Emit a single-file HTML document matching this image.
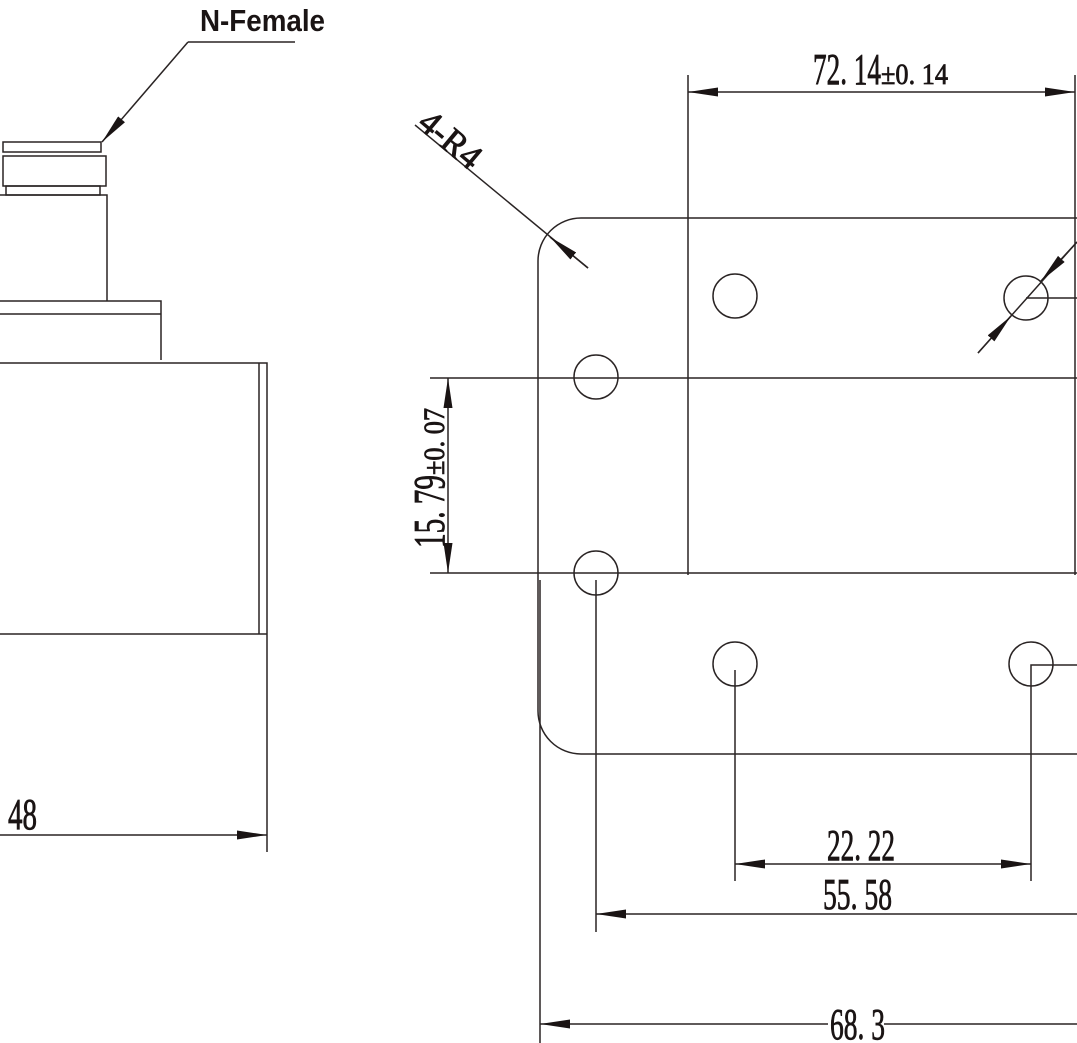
<!DOCTYPE html>
<html><head><meta charset="utf-8"><style>html,body{margin:0;padding:0;background:#fff}svg{display:block}</style></head>
<body>
<svg width="1077" height="1043" viewBox="0 0 1077 1043" xmlns="http://www.w3.org/2000/svg">
<defs>
<marker id="a" viewBox="0 0 30 9" refX="30" refY="4.5" markerWidth="30" markerHeight="9" markerUnits="userSpaceOnUse" orient="auto-start-reverse"><path d="M0,0 L30,4.5 L0,9 Z" fill="#1a1414"/></marker>
</defs>
<g stroke="#2a2424" stroke-width="1.5" fill="none">
<line x1="188" y1="42" x2="295" y2="42"/>
<line x1="188" y1="42" x2="102" y2="142" marker-end="url(#a)"/>
<rect x="3" y="142" width="98" height="10"/>
<rect x="3" y="156" width="103" height="30"/>
<rect x="6" y="186" width="94" height="9"/>
<polyline points="0,195 107,195 107,301"/>
<polyline points="0,301 161,301 161,360"/>
<line x1="0" y1="314" x2="161" y2="314"/>
<polyline points="0,363 267,363 267,852"/>
<line x1="259" y1="363" x2="259" y2="634"/>
<line x1="0" y1="634" x2="267" y2="634"/>
<line x1="0" y1="835" x2="267" y2="835" marker-end="url(#a)"/>
<path d="M1077,218 L581,218 A43,43 0 0 0 538,261 L538,711 A43,43 0 0 0 581,754 L1077,754"/>
<line x1="688" y1="75" x2="688" y2="575"/>
<line x1="1075" y1="75" x2="1075" y2="575"/>
<line x1="688" y1="92" x2="1075" y2="92" marker-start="url(#a)" marker-end="url(#a)"/>
<line x1="430" y1="378" x2="1077" y2="378"/>
<line x1="430" y1="573" x2="1077" y2="573"/>
<line x1="448" y1="378" x2="448" y2="573" marker-start="url(#a)" marker-end="url(#a)"/>
<line x1="415" y1="125" x2="588" y2="268"/>
<line x1="588" y1="268" x2="550" y2="237" marker-end="url(#a)"/>
<circle cx="596" cy="377" r="22"/>
<circle cx="596" cy="573" r="22"/>
<circle cx="735" cy="296" r="22"/>
<circle cx="735" cy="664" r="22"/>
<circle cx="1026" cy="298" r="22"/>
<circle cx="1031" cy="664" r="22"/>
<line x1="1026" y1="298" x2="1077" y2="298"/>
<polyline points="1077,665 1031,665 1031,881"/>
<line x1="978" y1="353" x2="1077" y2="242"/>
<line x1="978" y1="353" x2="1011" y2="316" marker-end="url(#a)"/>
<line x1="1077" y1="242" x2="1041" y2="281" marker-end="url(#a)"/>
<line x1="540" y1="580" x2="540" y2="1043"/>
<line x1="596" y1="580" x2="596" y2="932"/>
<line x1="735" y1="670" x2="735" y2="881"/>
<line x1="735" y1="864" x2="1031" y2="864" marker-start="url(#a)" marker-end="url(#a)"/>
<line x1="1077" y1="914" x2="596" y2="914" marker-end="url(#a)"/>
<line x1="828" y1="1024" x2="540" y2="1024" marker-end="url(#a)"/>
<line x1="884" y1="1024" x2="1077" y2="1024"/>
</g>
<g fill="#1a1414" font-family="Liberation Serif, serif" stroke="#1a1414" stroke-width="0.8">
<text x="200" y="31" font-family="Liberation Sans, sans-serif" font-weight="bold" font-size="31" stroke="none" textLength="125" lengthAdjust="spacingAndGlyphs">N-Female</text>
<text x="8" y="829" font-size="44" textLength="29" lengthAdjust="spacingAndGlyphs">48</text>
<text x="813" y="84" font-size="44" textLength="68" lengthAdjust="spacingAndGlyphs">72. 14</text>
<text x="881" y="84" font-size="30" textLength="67" lengthAdjust="spacingAndGlyphs">±0. 14</text>
<text x="827" y="860" font-size="44" textLength="68" lengthAdjust="spacingAndGlyphs">22. 22</text>
<text x="823" y="909" font-size="44" textLength="69" lengthAdjust="spacingAndGlyphs">55. 58</text>
<text x="830" y="1039" font-size="44" textLength="55" lengthAdjust="spacingAndGlyphs">68. 3</text>
<g transform="translate(444,548) rotate(-90)">
<text x="0" y="0" font-size="44" textLength="73" lengthAdjust="spacingAndGlyphs">15. 79</text>
<text x="73" y="0" font-size="30" textLength="67" lengthAdjust="spacingAndGlyphs">±0. 07</text>
</g>
<g transform="translate(416,126) rotate(40)">
<text x="0" y="0" font-size="36" textLength="70" lengthAdjust="spacingAndGlyphs">4-R4</text>
</g>
</g>
</svg>
</body></html>
